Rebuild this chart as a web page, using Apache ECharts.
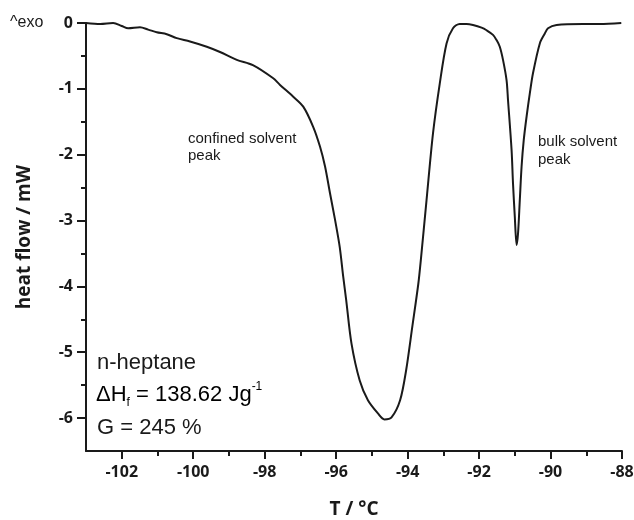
<!DOCTYPE html>
<html>
<head>
<meta charset="utf-8">
<script src="https://cdn.jsdelivr.net/npm/echarts@6/dist/echarts.min.js"></script>
<style>
html,body{margin:0;padding:0;background:#fff;}
#dsc{width:634px;height:520px;}
</style>
</head>
<body>
<div id="dsc"></div>
<script>
// DSC trace, n-heptane
var temps = [-103, -102.6, -102.24, -102.0, -101.82, -101.49, -101.26, -101.02, -100.74, -100.46,
  -100.09, -99.62, -99.25, -98.78, -98.33, -97.76, -97.57, -97.2, -96.92, -96.64,
  -96.45, -96.31, -96.17, -96.03, -95.9, -95.8, -95.72, -95.57, -95.34, -95.11,
  -94.83, -94.65, -94.45, -94.21, -94.04, -93.87, -93.70, -93.63, -93.47, -93.29,
  -93.10, -92.91, -92.73, -92.54, -92.35, -92.17, -91.93, -91.79, -91.61, -91.51,
  -91.42, -91.33, -91.23, -91.19, -91.09, -91.05, -91.00, -90.95, -90.91, -90.86,
  -90.81, -90.75, -90.67, -90.58, -90.49, -90.30, -90.16, -90.07, -89.83, -89.09,
  -88.62, -88.02];
var heatFlow = [0, -0.015, 0, -0.045, -0.08, -0.065, -0.1, -0.14, -0.17, -0.23,
  -0.28, -0.36, -0.44, -0.56, -0.64, -0.84, -0.94, -1.12, -1.27, -1.58,
  -1.88, -2.18, -2.59, -2.99, -3.4, -3.86, -4.2, -4.87, -5.43, -5.73,
  -5.93, -6.02, -5.99, -5.73, -5.27, -4.62, -3.96, -3.60, -2.69, -1.68,
  -0.92, -0.31, -0.08, -0.015, -0.015, -0.03, -0.07, -0.11, -0.18, -0.26,
  -0.36, -0.56, -0.87, -1.17, -1.93, -2.44, -2.94, -3.37, -3.2, -2.69,
  -2.18, -1.78, -1.42, -1.07, -0.76, -0.31, -0.16, -0.08, -0.03, -0.015,
  -0.015, 0];

var xMajor = [-102, -100, -98, -96, -94, -92, -90, -88];
var xMinor = [-101, -99, -97, -95, -93, -91, -89];
var yMajor = [0, -1, -2, -3, -4, -5, -6];
var yMinor = [-0.5, -1.5, -2.5, -3.5, -4.5, -5.5];

var ink = '#1a1a1a';
var boldFont = '"Open Sans", "DejaVu Sans", sans-serif';
var plainFont = '"Liberation Sans", Arial, sans-serif';

var pts = [];
for (var i = 0; i < temps.length; i++) {
	pts.push([temps[i], heatFlow[i]]);
}

var chart = echarts.init(document.getElementById('dsc'));

function xAx(ticks, len, labels) {
	return {
		type: 'value', min: -103, max: -88, position: 'bottom',
		axisLine: {show: labels, onZero: false, lineStyle: {color: ink, width: 2}},
		axisTick: {show: true, customValues: ticks, length: len, lineStyle: {color: ink, width: 2}},
		axisLabel: {show: labels, customValues: ticks, margin: 13, color: ink,
			fontFamily: boldFont, fontWeight: 'bold', fontSize: 16},
		splitLine: {show: false},
		name: labels ? 'T / °C' : '',
		nameLocation: 'middle', nameGap: 49,
		nameTextStyle: {color: ink, fontFamily: boldFont, fontWeight: 'bold', fontSize: 19}
	};
}
function yAx(ticks, len, labels) {
	return {
		type: 'value', min: -6.5, max: 0, position: 'left',
		axisLine: {show: labels, onZero: false, lineStyle: {color: ink, width: 2}},
		axisTick: {show: true, customValues: ticks, length: len, lineStyle: {color: ink, width: 2}},
		axisLabel: {show: labels, customValues: ticks, margin: 13, color: ink,
			fontFamily: boldFont, fontWeight: 'bold', fontSize: 16},
		splitLine: {show: false},
		name: labels ? 'heat flow / mW' : '',
		nameLocation: 'middle', nameGap: 52,
		nameTextStyle: {color: ink, fontFamily: boldFont, fontWeight: 'bold', fontSize: 19}
	};
}

var option = {
	animation: false,
	grid: {left: 86, right: 12, top: 23, bottom: 69, containLabel: false, outerBoundsMode: 'none'},
	xAxis: [xAx(xMajor, 8, true), xAx(xMinor, 5, false)],
	yAxis: [yAx(yMajor, 9, true), yAx(yMinor, 5, false)],
	series: [{
		type: 'line',
		xAxisIndex: 0, yAxisIndex: 0,
		data: pts,
		symbol: 'none',
		smooth: 0.3,
		clip: false,
		lineStyle: {color: ink, width: 2}
	}],
	graphic: [
		{type: 'text', left: 10, top: 15,
			style: {text: '^exo', font: '16px ' + plainFont, fill: ink}},
		{type: 'text', left: 188, top: 130,
			style: {text: 'confined solvent\npeak', font: '15px ' + plainFont, lineHeight: 17, fill: ink}},
		{type: 'text', left: 538, top: 133,
			style: {text: 'bulk solvent\npeak', font: '15px ' + plainFont, lineHeight: 18, fill: ink}},
		{type: 'text', left: 97, top: 352,
			style: {text: 'n-heptane', font: '22px ' + plainFont, fill: ink}},
		{type: 'text', left: 96, top: 381,
			style: {
				text: '{a|ΔH}{sub|f}{a| = 138.62 Jg}{sup|-1}',
				rich: {
					a: {fontFamily: plainFont, fontSize: 22, lineHeight: 28, color: ink},
					sub: {fontFamily: plainFont, fontSize: 12, lineHeight: 12, verticalAlign: 'bottom', color: ink},
					sup: {fontFamily: plainFont, fontSize: 12, lineHeight: 12, verticalAlign: 'top', color: ink}
				}
			}},
		{type: 'text', left: 97, top: 417,
			style: {text: 'G = 245 %', font: '22px ' + plainFont, fill: ink}}
	]
};
chart.setOption(option);
</script>
</body>
</html>
